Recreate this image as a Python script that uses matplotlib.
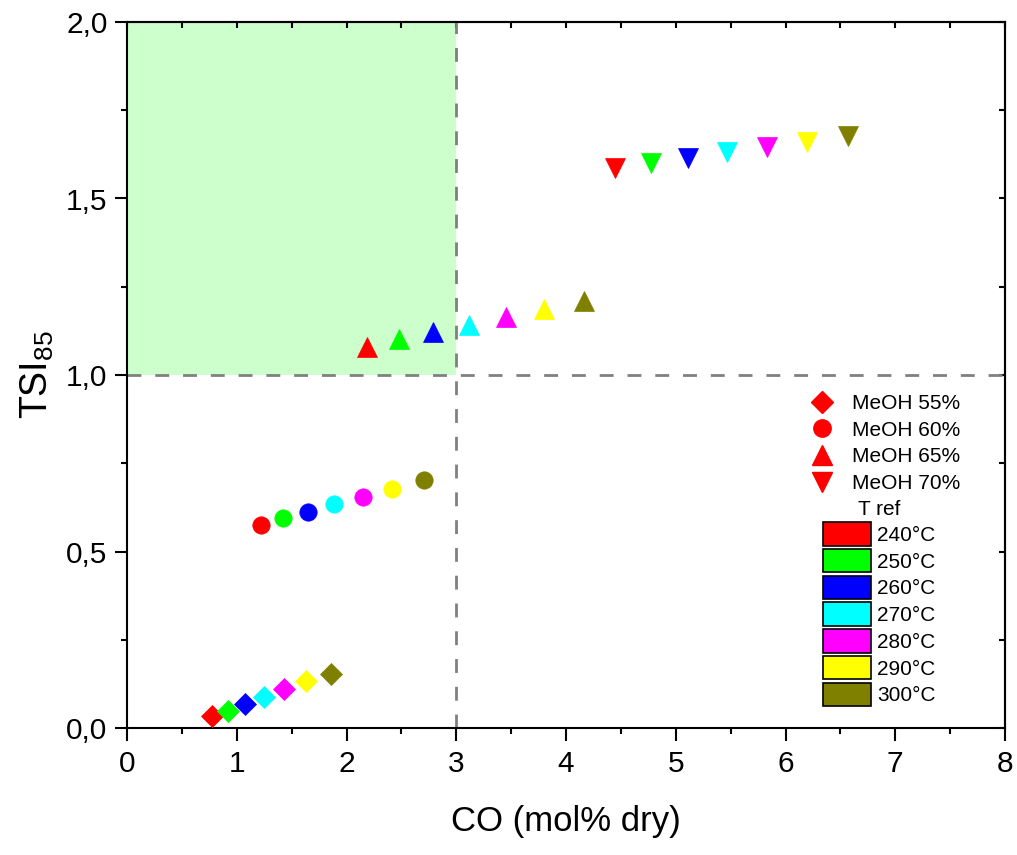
import matplotlib
matplotlib.use("Agg")
import matplotlib.pyplot as plt
from matplotlib.patches import Patch, Rectangle
from matplotlib.lines import Line2D
from matplotlib.ticker import MultipleLocator, FuncFormatter

plt.rcParams['font.family'] = ['Liberation Sans', 'DejaVu Sans']
plt.rcParams['mathtext.default'] = 'regular'

temps = ["240°C", "250°C", "260°C", "270°C", "280°C", "290°C", "300°C"]
colors = ["#ff0000", "#00ff00", "#0000ff", "#00ffff", "#ff00ff", "#ffff00", "#808000"]

series_names = ["MeOH 55%", "MeOH 60%", "MeOH 65%", "MeOH 70%"]
markers = ["D", "o", "^", "v"]
msizes = [10.8, 12.5, 14, 14]

co_55 = [0.775, 0.92, 1.075, 1.248, 1.43, 1.63, 1.86]
tsi_55 = [0.034, 0.048, 0.068, 0.088, 0.110, 0.133, 0.153]
co_60 = [1.221, 1.424, 1.646, 1.886, 2.148, 2.417, 2.709]
tsi_60 = [0.575, 0.594, 0.612, 0.634, 0.655, 0.678, 0.703]
co_65 = [2.184, 2.478, 2.788, 3.113, 3.451, 3.802, 4.164]
tsi_65 = [1.080, 1.101, 1.121, 1.143, 1.165, 1.187, 1.210]
co_70 = [4.444, 4.772, 5.109, 5.464, 5.829, 6.196, 6.572]
tsi_70 = [1.587, 1.601, 1.616, 1.631, 1.646, 1.661, 1.677]

xs = [co_55, co_60, co_65, co_70]
ys = [tsi_55, tsi_60, tsi_65, tsi_70]

fig = plt.figure(figsize=(10.17, 8.55), dpi=100)
ax = fig.add_axes([127/1017, 1-728/855, (1005-127)/1017, (728-22)/855])

ax.set_xlim(0, 8)
ax.set_ylim(0, 2)

# highlighted region
ax.add_patch(Rectangle((0, 1), 3, 1, facecolor="#ccffcc", edgecolor="none", zorder=0))
ax.axvline(3, color="#808080", lw=2, ls=(0, (5, 5)), zorder=1)
ax.axhline(1, color="#808080", lw=2, ls=(0, (5, 5)), zorder=1)

for x, y, m, s in zip(xs, ys, markers, msizes):
    for xi, yi, c in zip(x, y, colors):
        ax.plot([xi], [yi], ls="none", marker=m, ms=s, color=c, mec=c, mew=0.5, zorder=3)

fmt = FuncFormatter(lambda v, p: f"{v:.1f}".replace(".", ","))
ax.xaxis.set_major_locator(MultipleLocator(1))
ax.xaxis.set_minor_locator(MultipleLocator(0.5))
ax.yaxis.set_major_locator(MultipleLocator(0.5))
ax.yaxis.set_minor_locator(MultipleLocator(0.25))
ax.yaxis.set_major_formatter(fmt)
ax.tick_params(which="major", direction="out", length=9, width=1.5, labelsize=21.5)
ax.tick_params(which="minor", direction="out", length=4.5, width=1.5)
ax.tick_params(axis="x", pad=7)
ax.tick_params(axis="y", pad=5)
for sp in ax.spines.values():
    sp.set_linewidth(1.5)

secx = ax.secondary_xaxis('top')
secx.xaxis.set_major_locator(MultipleLocator(1))
secx.xaxis.set_minor_locator(MultipleLocator(0.5))
secx.tick_params(which="both", direction="in", length=4.5, width=1.5, labeltop=False)
secx.spines['top'].set_linewidth(1.5)
secy = ax.secondary_yaxis('right')
secy.yaxis.set_major_locator(MultipleLocator(0.5))
secy.yaxis.set_minor_locator(MultipleLocator(0.25))
secy.tick_params(which="both", direction="in", length=4.5, width=1.5, labelright=False)
secy.spines['right'].set_linewidth(1.5)

ax.set_xlabel("CO (mol% dry)", fontsize=25, labelpad=19)
ax.set_ylabel("TSI$_{85}$", fontsize=27, labelpad=7)

# legend 1: markers
h1 = [Line2D([], [], ls="none", marker=m, ms=s, color="#ff0000", mec="#ff0000")
      for m, s in zip(markers, msizes)]
leg1 = ax.legend(h1, series_names, loc="upper left",
                 bbox_to_anchor=(807/1017, 1-394/855), bbox_transform=fig.transFigure,
                 frameon=False, fontsize=15, handlelength=1.4, handletextpad=0.75,
                 labelspacing=0.37, borderpad=0, borderaxespad=0)
ax.add_artist(leg1)

h2 = [Patch(facecolor=c, edgecolor="black", lw=1.2) for c in colors]
leg2 = ax.legend(h2, temps, title="T ref", title_fontsize=15, loc="upper left",
                 bbox_to_anchor=(823/1017, 1-500/855), bbox_transform=fig.transFigure,
                 frameon=False, fontsize=15, handlelength=2.3, handleheight=1.35,
                 handletextpad=0.3, labelspacing=0.16, borderpad=0, borderaxespad=0)

fig.savefig("out.png", dpi=100)
